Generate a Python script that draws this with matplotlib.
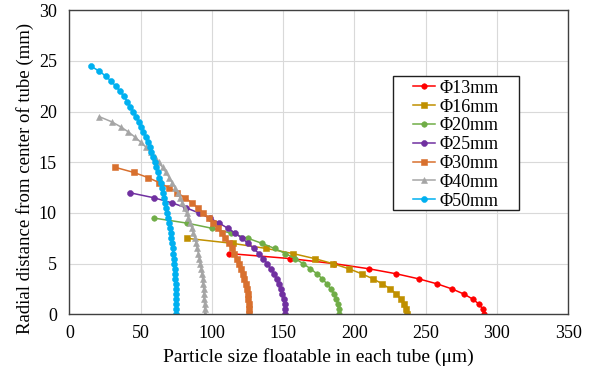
import matplotlib
matplotlib.use("Agg")
import matplotlib.pyplot as plt
from matplotlib.patches import Rectangle

# radial distance r (mm) and floatable particle size d (um) per tube diameter
r_13 = [6, 5.5, 5, 4.5, 4, 3.5, 3, 2.5, 2, 1.5, 1, 0.5, 0]
d_13 = [111.9, 155.1, 185.9, 210.0, 229.4, 245.2, 258.2, 268.6, 276.9, 283.1,
        287.5, 290.1, 291.0]

r_16 = [7.5, 7, 6.5, 6, 5.5, 5, 4.5, 4, 3.5, 3, 2.5, 2, 1.5, 1, 0.5, 0]
d_16 = [82.5, 114.7, 138.2, 156.8, 172.1, 185.0, 196.0, 205.2, 213.1, 219.7,
        225.1, 229.5, 232.8, 235.1, 236.5, 237.0]

r_20 = [9.5, 9, 8.5, 8, 7.5, 7, 6.5, 6, 5.5, 5, 4.5, 4, 3.5, 3, 2.5, 2, 1.5,
        1, 0.5, 0]
d_20 = [59.2, 82.6, 99.8, 113.7, 125.3, 135.3, 144.0, 151.6, 158.3, 164.1,
        169.2, 173.7, 177.5, 180.8, 183.5, 185.7, 187.4, 188.6, 189.3, 189.5]

r_25 = [12, 11.5, 11, 10.5, 10, 9.5, 9, 8.5, 8, 7.5, 7, 6.5, 6, 5.5, 5, 4.5,
        4, 3.5, 3, 2.5, 2, 1.5, 1, 0.5, 0]
d_25 = [42.4, 59.4, 72.0, 82.2, 90.9, 98.5, 105.1, 111.1, 116.4, 121.2, 125.5,
        129.4, 132.9, 136.0, 138.9, 141.3, 143.5, 145.4, 147.1, 148.4, 149.5,
        150.4, 151.0, 151.4, 151.5]

r_30 = [14.5, 14, 13.5, 13, 12.5, 12, 11.5, 11, 10.5, 10, 9.5, 9, 8.5, 8, 7.5,
        7, 6.5, 6, 5.5, 5, 4.5, 4, 3.5, 3, 2.5, 2, 1.5, 1, 0.5, 0]
d_30 = [32.3, 45.3, 55.1, 63.0, 69.8, 75.8, 81.1, 85.9, 90.2, 94.1, 97.7,
        101.0, 104.1, 106.8, 109.4, 111.7, 113.8, 115.8, 117.5, 119.1, 120.5,
        121.7, 122.8, 123.7, 124.5, 125.2, 125.7, 126.0, 126.2, 126.3]

r_40 = [19.5, 19, 18.5, 18, 17.5, 17, 16.5, 16, 15.5, 15, 14.5, 14, 13.5, 13,
        12.5, 12, 11.5, 11, 10.5, 10, 9.5, 9, 8.5, 8, 7.5, 7, 6.5, 6, 5.5, 5,
        4.5, 4, 3.5, 3, 2.5, 2, 1.5, 1, 0.5, 0]
d_40 = [21.1, 29.7, 36.1, 41.4, 46.0, 50.0, 53.7, 57.0, 60.0, 62.8, 65.4, 67.8,
        70.1, 72.2, 74.2, 76.0, 77.7, 79.3, 80.9, 82.3, 83.6, 84.8, 86.0, 87.1,
        88.1, 89.0, 89.8, 90.6, 91.3, 92.0, 92.6, 93.1, 93.5, 93.9, 94.3, 94.5,
        94.7, 94.9, 95.0, 95.0]

r_50 = [24.5, 24, 23.5, 23, 22.5, 22, 21.5, 21, 20.5, 20, 19.5, 19, 18.5, 18,
        17.5, 17, 16.5, 16, 15.5, 15, 14.5, 14, 13.5, 13, 12.5, 12, 11.5, 11,
        10.5, 10, 9.5, 9, 8.5, 8, 7.5, 7, 6.5, 6, 5.5, 5, 4.5, 4, 3.5, 3, 2.5,
        2, 1.5, 1, 0.5, 0]
d_50 = [14.9, 21.0, 25.6, 29.4, 32.7, 35.6, 38.3, 40.7, 42.9, 45.0, 46.9, 48.7,
        50.4, 52.0, 53.6, 55.0, 56.3, 57.6, 58.8, 60.0, 61.1, 62.1, 63.1, 64.1,
        65.0, 65.8, 66.6, 67.3, 68.1, 68.7, 69.4, 70.0, 70.5, 71.1, 71.5, 72.0,
        72.4, 72.8, 73.2, 73.5, 73.8, 74.0, 74.3, 74.5, 74.6, 74.8, 74.9, 74.9,
        75.0, 75.0]

labels = ["Φ13mm", "Φ16mm", "Φ20mm", "Φ25mm", "Φ30mm", "Φ40mm", "Φ50mm"]
xs = [d_13, d_16, d_20, d_25, d_30, d_40, d_50]
ys = [r_13, r_16, r_20, r_25, r_30, r_40, r_50]

colors = ["#FF0000", "#C09000", "#70AD47", "#7030A0", "#D8702E", "#A5A5A5", "#00B0F0"]
markers = ["o", "s", "o", "o", "s", "^", "o"]
msizes = [4.0, 4.0, 4.0, 4.3, 4.8, 4.4, 4.3]

plt.rcParams["font.family"] = ["Liberation Serif", "DejaVu Serif"]

fig = plt.figure(figsize=(5.9, 3.76), dpi=100)
ax = fig.add_axes([0.1175, 0.164, 0.8455, 0.8086])

for x, y, lab, c, m, ms in zip(xs, ys, labels, colors, markers, msizes):
    ax.plot(x, y, color=c, marker=m, markersize=ms, linewidth=1.1,
            markeredgewidth=0.4, markeredgecolor=c, label=lab)

ax.set_xlim(0, 350)
ax.set_ylim(0, 30)
ax.set_xticks(range(0, 351, 50))
ax.set_yticks(range(0, 31, 5))
ax.grid(True, color="#D9D9D9", linewidth=0.8)
ax.set_axisbelow(True)
for s in ax.spines.values():
    s.set_color("#404040")
    s.set_linewidth(1.0)
ax.tick_params(axis="both", length=0, labelsize=13)
ax.tick_params(axis="x", pad=8)
ax.tick_params(axis="y", pad=9)

ax.set_xlabel("Particle size floatable in each tube (μm)", fontsize=14, labelpad=4)
ax.set_ylabel("Radial distance from center of tube (mm)", fontsize=13.5)
ax.yaxis.set_label_coords(-0.071, 0.448)

box = Rectangle((0.649, 0.342), 0.252, 0.442, transform=ax.transAxes,
                facecolor="white", edgecolor="#202020", linewidth=1.0, zorder=5)
ax.add_patch(box)
leg = ax.legend(loc="center", bbox_to_anchor=(0.775, 0.558), frameon=False,
                fontsize=13, handlelength=1.2, handletextpad=0.25,
                labelspacing=0.1, borderpad=0)
leg.set_zorder(6)

fig.savefig("out.png", dpi=100)
